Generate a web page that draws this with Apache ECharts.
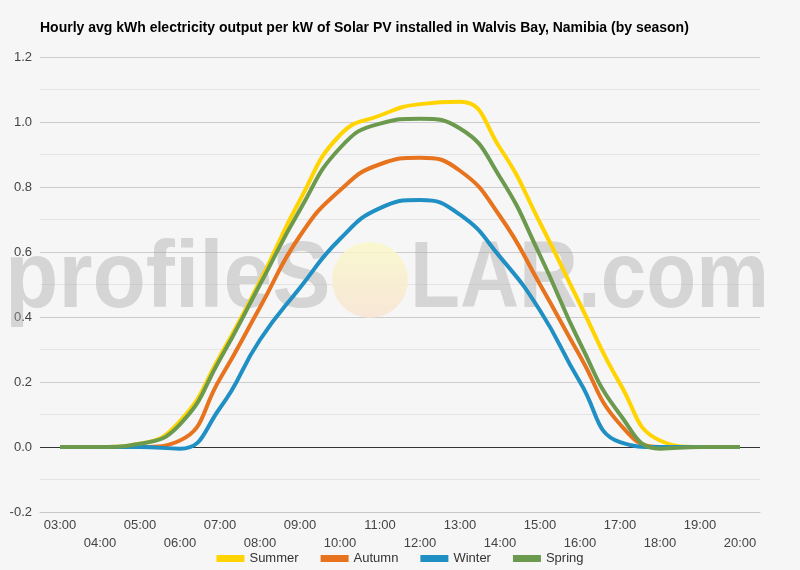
<!DOCTYPE html>
<html>
<head>
<meta charset="utf-8">
<script src="https://cdn.jsdelivr.net/npm/echarts@6/dist/echarts.min.js"></script>
<style>
  html, body { margin: 0; padding: 0; background: #f6f6f6; }
  #chart { width: 800px; height: 570px; }
</style>
</head>
<body>
<div id="chart"></div>
<script>
// hours of the day
var hours = ["03:00", "04:00", "05:00", "06:00", "07:00", "08:00", "09:00", "10:00", "11:00",
  "12:00", "13:00", "14:00", "15:00", "16:00", "17:00", "18:00", "19:00", "20:00"];

// kWh per kW
var summer = [0, 0, 0.01, 0.08, 0.28, 0.51, 0.76, 0.96, 1.02, 1.055, 1.062, 0.92, 0.69, 0.44, 0.195, 0.02, 0, 0];
var autumn = [0, 0, 0, 0.02, 0.21, 0.43, 0.65, 0.79, 0.87, 0.89, 0.85, 0.71, 0.5, 0.28, 0.07, 0, 0, 0];
var winter = [0, 0, 0, -0.005, 0.12, 0.33, 0.49, 0.64, 0.735, 0.76, 0.715, 0.585, 0.42, 0.2, 0.015, 0, 0, 0];
var spring = [0, 0, 0.01, 0.07, 0.27, 0.5, 0.73, 0.92, 0.995, 1.01, 0.98, 0.83, 0.59, 0.32, 0.1, -0.005, 0, 0];

var seasonNames = ["Summer", "Autumn", "Winter", "Spring"];
var seasonColors = ["#ffd400", "#e8731f", "#1f8fc4", "#6b9a4e"];

var chart = echarts.init(document.getElementById("chart"));

function lineSeries(name, data, color) {
  return {
    name: name,
    type: "line",
    smooth: true,
    symbol: "none",
    data: data,
    z: 3,
    lineStyle: { color: color, width: 4 },
    itemStyle: { color: color }
  };
}

var seriesList = [
  lineSeries(seasonNames[0], summer, seasonColors[0]),
  lineSeries(seasonNames[1], autumn, seasonColors[1]),
  lineSeries(seasonNames[2], winter, seasonColors[2]),
  lineSeries(seasonNames[3], spring, seasonColors[3])
];
// the dark baseline at zero
seriesList[0].markLine = {
  silent: true,
  symbol: "none",
  label: { show: false },
  lineStyle: { color: "#333", width: 1, type: "solid" },
  data: [{ yAxis: 0 }],
  z: 2
};

var wmFill = "rgba(165,165,165,0.4)";

var option = {
  backgroundColor: "#f6f6f6",
  animation: false,
  title: {
    text: "Hourly avg kWh electricity output per kW of Solar PV installed in Walvis Bay, Namibia (by season)",
    left: 40,
    top: 21,
    padding: 0,
    textStyle: { fontFamily: "Liberation Sans", fontSize: 14, fontWeight: "bold", color: "#000" }
  },
  graphic: [
    {
      type: "text",
      z: 1,
      x: 5,
      y: 234,
      scaleX: 0.93,
      style: {
        text: "profileS",
        font: "bold 94px 'Liberation Sans'",
        verticalAlign: "top",
        fill: wmFill
      }
    },
    {
      type: "circle",
      z: 1,
      shape: { cx: 370, cy: 280, r: 38 },
      style: {
        fill: new echarts.graphic.LinearGradient(0, 0, 0, 1, [
          { offset: 0, color: "rgba(250,248,200,0.85)" },
          { offset: 1, color: "rgba(248,228,210,0.85)" }
        ])
      }
    },
    {
      type: "text",
      z: 1,
      x: 410,
      y: 234,
      scaleX: 0.87,
      style: {
        text: "LAR.com",
        font: "bold 94px 'Liberation Sans'",
        verticalAlign: "top",
        fill: wmFill
      }
    }
  ],
  legend: {
    bottom: 0,
    left: "center",
    icon: "rect",
    itemWidth: 28,
    itemHeight: 7,
    itemGap: 22,
    textStyle: { fontFamily: "Liberation Sans", fontSize: 13, color: "#333" },
    data: seasonNames
  },
  grid: { left: 40, right: 40, top: 57, bottom: 58 },
  xAxis: {
    type: "category",
    data: hours,
    boundaryGap: true,
    axisLine: { onZero: false, lineStyle: { color: "#c8c8c8" } },
    axisTick: { show: false },
    axisLabel: {
      interval: 0,
      margin: 4,
      fontFamily: "Liberation Sans",
      fontSize: 13,
      lineHeight: 18,
      color: "#444",
      formatter: function (v, i) { return i % 2 ? "\n" + v : v; }
    }
  },
  yAxis: {
    type: "value",
    min: -0.2,
    max: 1.2,
    interval: 0.2,
    axisLine: { show: false },
    axisTick: { show: false },
    axisLabel: {
      margin: 8,
      fontFamily: "Liberation Sans",
      fontSize: 13,
      color: "#444",
      formatter: function (v) { return v.toFixed(1); }
    },
    splitLine: { lineStyle: { color: "#cccccc" } },
    minorTick: { show: false, splitNumber: 2 },
    minorSplitLine: { show: true, lineStyle: { color: "#e4e4e4" } }
  },
  series: seriesList
};

chart.setOption(option);
</script>
</body>
</html>
